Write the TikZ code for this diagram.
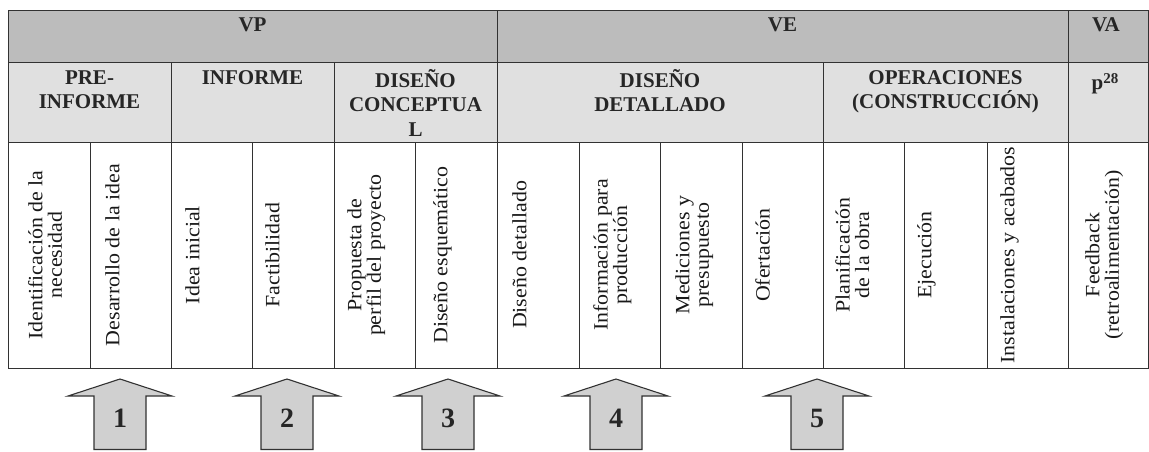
\documentclass[tikz,border=0pt]{standalone}
\usepackage{fontspec}
\setmainfont{Liberation Serif}
\newfontfamily\celdafont[FakeStretch=1.08]{Liberation Serif}
\newcommand{\tope}{\rule{0pt}{15pt}}
\definecolor{grisvp}{RGB}{188,188,188}
\definecolor{grisfase}{RGB}{224,224,224}
\definecolor{grisflecha}{RGB}{208,208,208}
\definecolor{linea}{RGB}{50,50,50}
\tikzset{
  cabecera/.style={font=\fontsize{21}{24.5}\selectfont\bfseries, text=black!85, align=center, inner sep=0pt},
  tarea/.style={font=\celdafont\fontsize{20.3}{19.5}\selectfont, rotate=90, anchor=north, align=center, inner sep=0pt, text=black!90},
  flecha/.style={draw=linea, fill=grisflecha, line width=1.1pt, line join=miter},
  numero/.style={font=\fontsize{28}{28}\selectfont\bfseries, text=black!85, inner sep=0pt},
  rejilla/.style={draw=linea, line width=1pt}
}

\begin{document}
\begin{tikzpicture}[x=1pt, y=-1pt]
  \useasboundingbox (0,0) rectangle (1149,451);

  % Fondos
  \fill[grisvp] (8,10) rectangle (1148,62);
  \fill[grisfase] (8,62) rectangle (1148,142);

  % Rejilla
  \draw[rejilla] (8,10) rectangle (1148,368);
  \draw[rejilla] (8,62) -- (1148,62);
  \draw[rejilla] (8,142) -- (1148,142);
  \foreach \x in {497,1068} \draw[rejilla] (\x,10) -- (\x,368);
  \foreach \x in {171,334,823} \draw[rejilla] (\x,62) -- (\x,368);
  \foreach \x in {90,252,415,579,660,742,904,987} \draw[rejilla] (\x,142) -- (\x,368);

  % Cabeceras
  \node[cabecera, anchor=base] (vp) at (252.5,31) {VP};
  \node[cabecera, anchor=base] (ve) at (782.5,31) {VE};
  \node[cabecera, anchor=base] (va) at (1106,31) {VA};

  \node[cabecera, anchor=north] (pre) at (89.5,69) {\tope PRE-\\INFORME};
  \node[cabecera, anchor=north] (inf) at (252.5,69) {\tope INFORME};
  \node[cabecera, anchor=north] (con) at (415.5,69) {\tope DISEÑO\\CONCEPTUA\\L};
  \node[cabecera, anchor=north] (det) at (660,69) {\tope DISEÑO\\DETALLADO};
  \node[cabecera, anchor=north] (ope) at (945.5,69) {\tope OPERACIONES\\(CONSTRUCCIÓN)};
  \node[cabecera, anchor=base] (p28) at (1105,89) {p\raisebox{6pt}{\fontsize{15}{15}\selectfont 28}};

  % Tareas
  \node[tarea] (t1) at (28,255) {Identificación de la\\necesidad};
  \node[tarea] (t2) at (105,255) {Desarrollo de la idea};
  \node[tarea] (t3) at (185,255) {Idea inicial};
  \node[tarea] (t4) at (265,255) {Factibilidad};
  \node[tarea] (t5) at (347,255) {Propuesta de\\perfil del proyecto};
  \node[tarea] (t6) at (433,255) {Diseño esquemático};
  \node[tarea] (t7) at (512,255) {Diseño detallado};
  \node[tarea] (t8) at (593,255) {Información para\\producción};
  \node[tarea] (t9) at (675,255) {Mediciones y\\presupuesto};
  \node[tarea] (t10) at (755,255) {Ofertación};
  \node[tarea] (t11) at (835,255) {Planificación\\de la obra};
  \node[tarea] (t12) at (917,255) {Ejecución};
  \node[tarea] (t13) at (1000,255) {Instalaciones y acabados};
  \node[tarea] (t14) at (1085,255) {Feedback\\(retroalimentación)};

  % Flechas
  \foreach \cx/\num in {120/1, 287/2, 448/3, 616/4, 817/5}{
    \draw[flecha] (\cx,379) -- ++(52,17) -- ++(-26,0) -- (\cx+26,449.5)
      -- (\cx-26,449.5) -- (\cx-26,396) -- (\cx-52,396) -- cycle;
    \node[numero] (f\num) at (\cx,418) {\num};
  }
\end{tikzpicture}
\end{document}
